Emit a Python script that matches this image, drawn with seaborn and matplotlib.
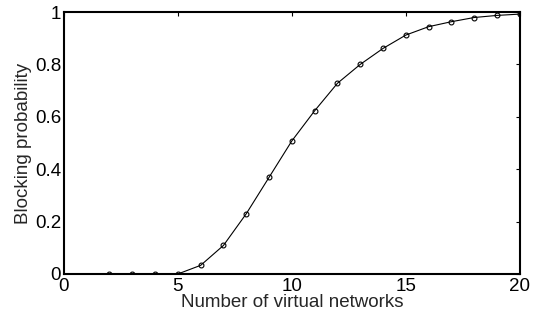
import matplotlib
matplotlib.use("Agg")
import matplotlib.pyplot as plt
import seaborn as sns
import pandas as pd

num_networks = [2, 3, 4, 5, 6, 7, 8, 9, 10, 11, 12, 13, 14, 15, 16, 17, 18, 19, 20]
blocking_prob = [0.0, 0.0, 0.0, 0.0, 0.033, 0.109, 0.23, 0.369, 0.508, 0.623, 0.728,
                 0.80, 0.861, 0.912, 0.944, 0.963, 0.979, 0.987, 0.992]
x_ticks = [0, 5, 10, 15, 20]
y_ticks = [0, 0.2, 0.4, 0.6, 0.8, 1]
y_tick_labels = ["0", "0.2", "0.4", "0.6", "0.8", "1"]

df = pd.DataFrame({"n": num_networks, "p": blocking_prob})

sns.set_style("white")
plt.rcParams["font.family"] = ["Liberation Sans", "DejaVu Sans"]

fig = plt.figure(figsize=(5.37, 3.16), dpi=100)
ax = fig.add_axes([0.119, 0.133, 0.849, 0.829])
sns.lineplot(data=df, x="n", y="p", ax=ax, color="black", linewidth=0.8,
             marker="o", markersize=3.5, markerfacecolor="none",
             markeredgecolor="black", markeredgewidth=0.8)

ax.set_xlim(0, 20)
ax.set_ylim(0, 1)
ax.set_xticks(x_ticks)
ax.set_xticklabels([str(t) for t in x_ticks])
ax.set_yticks(y_ticks)
ax.set_yticklabels(y_tick_labels)
ax.tick_params(direction="in", length=3, width=0.8, labelsize=13.5, colors="black",
               top=True, right=True, pad=2)
ax.tick_params(axis="x", pad=3)
for s in ax.spines.values():
    s.set_visible(True)
    s.set_color("black")
    s.set_linewidth(1.5)
ax.set_xlabel("Number of virtual networks", fontsize=13.5, labelpad=-1)
ax.set_ylabel("Blocking probability", fontsize=13.5, labelpad=2)

fig.savefig("out.png", dpi=100)
